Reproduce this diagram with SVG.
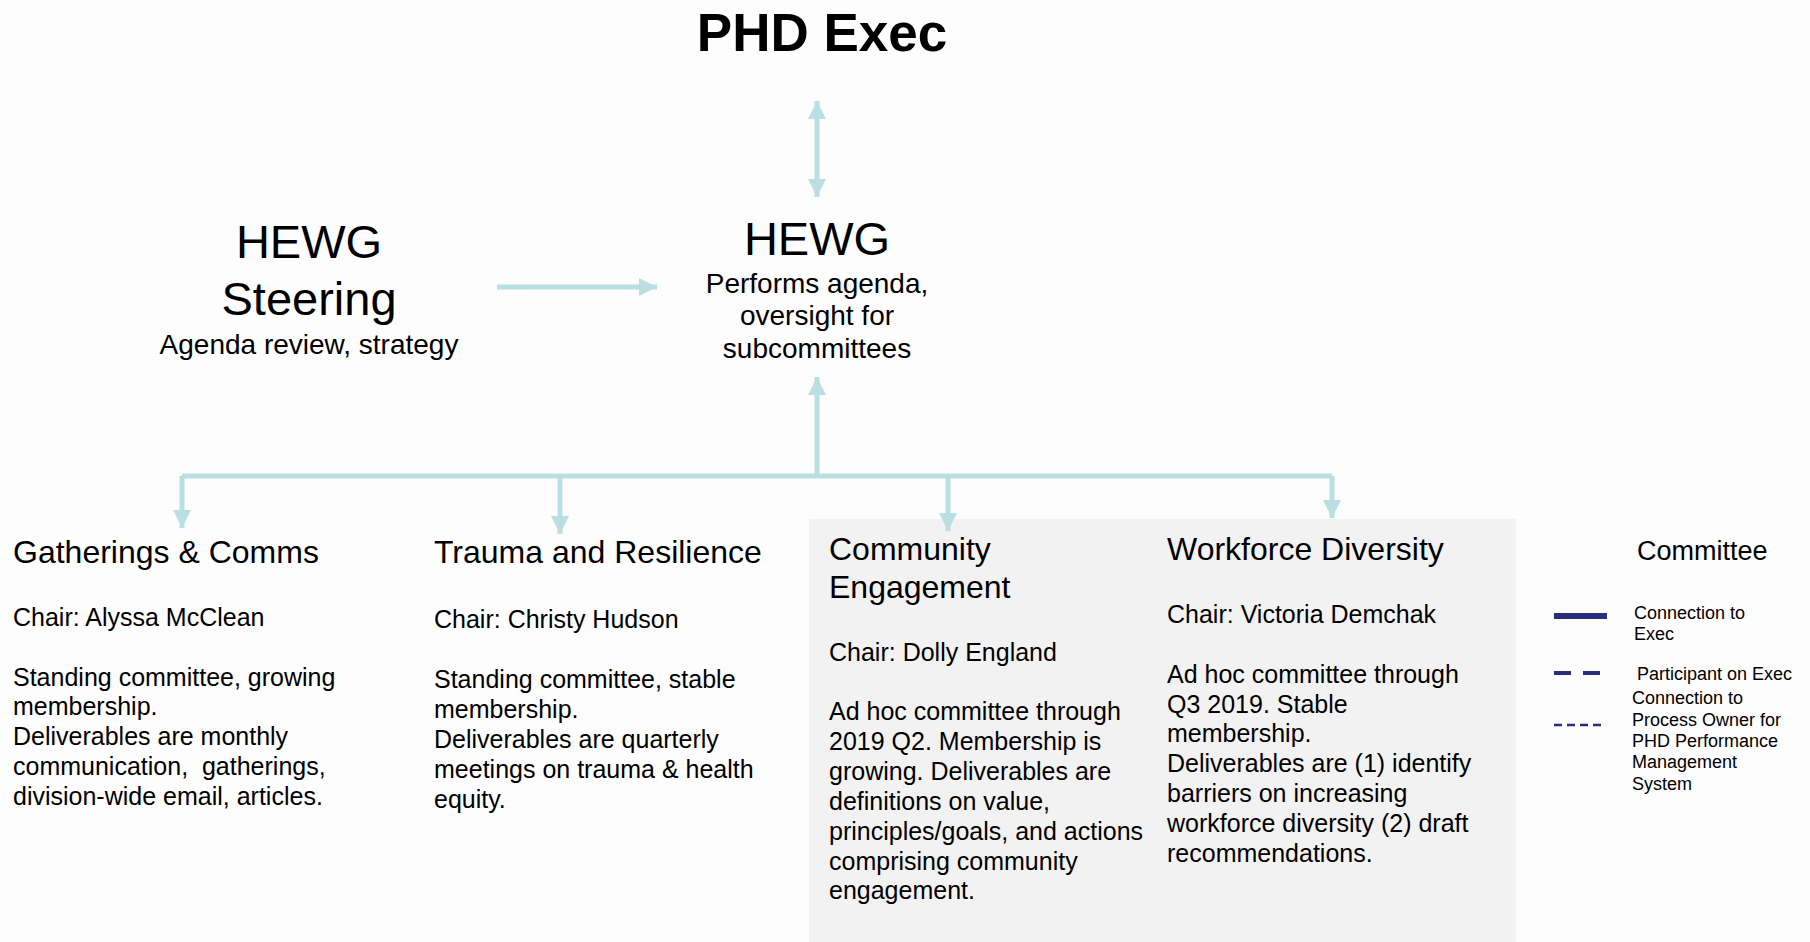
<svg xmlns="http://www.w3.org/2000/svg" width="1810" height="942" viewBox="0 0 1810 942">
<style>
text{font-family:"Liberation Sans",Arial,sans-serif;fill:#000}
.title{font-size:53px;font-weight:bold}
.big{font-size:47px}
.sub{font-size:28px}
.head{font-size:32px}
.body{font-size:25px}
.leg{font-size:18px}
.conn{fill:none;stroke:#b9dfe3;stroke-width:5}
</style>
<defs>
<marker id="ah" markerUnits="userSpaceOnUse" markerWidth="18" markerHeight="18" viewBox="0 0 18 18" refX="18" refY="9" orient="auto-start-reverse">
<path d="M0,0 L18,9 L0,18 z" fill="#b9dfe3"/>
</marker>
</defs>
<rect x="0" y="0" width="1810" height="942" fill="#fdfdfd"/>
<rect id="adhoc-panel" x="809" y="519" width="707" height="423" fill="#f2f2f2"/>

<g id="connectors">
<path class="conn" d="M817,101 V197" marker-start="url(#ah)" marker-end="url(#ah)"/>
<path class="conn" d="M497,287 H657" marker-end="url(#ah)"/>
<path class="conn" d="M817,476 V377" marker-end="url(#ah)"/>
<path class="conn" d="M182,476 H1332"/>
<path class="conn" d="M182,476 V528" marker-end="url(#ah)"/>
<path class="conn" d="M560,476 V534" marker-end="url(#ah)"/>
<path class="conn" d="M948,476 V531" marker-end="url(#ah)"/>
<path class="conn" d="M1332,476 V518" marker-end="url(#ah)"/>
</g>

<g id="phd-exec">
<text class="title" x="822" y="51" text-anchor="middle">PHD Exec</text>
</g>

<g id="hewg-steering">
<text class="big" x="309" y="258" text-anchor="middle">HEWG</text>
<text class="big" x="309" y="315" text-anchor="middle">Steering</text>
<text class="sub" x="309" y="354" text-anchor="middle">Agenda review, strategy</text>
</g>

<g id="hewg">
<text class="big" x="817" y="255" text-anchor="middle">HEWG</text>
<text class="sub" x="817" y="293" text-anchor="middle">Performs agenda,</text>
<text class="sub" x="817" y="325" text-anchor="middle">oversight for</text>
<text class="sub" x="817" y="358" text-anchor="middle">subcommittees</text>
</g>

<g id="gatherings-comms">
<text class="head" x="13" y="563">Gatherings &amp; Comms</text>
<text class="body" x="13" y="626">Chair: Alyssa McClean</text>
<text class="body" x="13" y="686">Standing committee, growing</text>
<text class="body" x="13" y="715">membership.</text>
<text class="body" x="13" y="745">Deliverables are monthly</text>
<text class="body" x="13" y="775" xml:space="preserve">communication,  gatherings,</text>
<text class="body" x="13" y="805">division-wide email, articles.</text>
</g>

<g id="trauma-resilience">
<text class="head" x="434" y="563">Trauma and Resilience</text>
<text class="body" x="434" y="628">Chair: Christy Hudson</text>
<text class="body" x="434" y="688">Standing committee, stable</text>
<text class="body" x="434" y="718">membership.</text>
<text class="body" x="434" y="748">Deliverables are quarterly</text>
<text class="body" x="434" y="778">meetings on trauma &amp; health</text>
<text class="body" x="434" y="808">equity.</text>
</g>

<g id="community-engagement">
<text class="head" x="829" y="560">Community</text>
<text class="head" x="829" y="598">Engagement</text>
<text class="body" x="829" y="661">Chair: Dolly England</text>
<text class="body" x="829" y="720">Ad hoc committee through</text>
<text class="body" x="829" y="750">2019 Q2. Membership is</text>
<text class="body" x="829" y="780">growing. Deliverables are</text>
<text class="body" x="829" y="810">definitions on value,</text>
<text class="body" x="829" y="840">principles/goals, and actions</text>
<text class="body" x="829" y="870">comprising community</text>
<text class="body" x="829" y="899">engagement.</text>
</g>

<g id="workforce-diversity">
<text class="head" x="1167" y="560">Workforce Diversity</text>
<text class="body" x="1167" y="623">Chair: Victoria Demchak</text>
<text class="body" x="1167" y="683">Ad hoc committee through</text>
<text class="body" x="1167" y="713">Q3 2019. Stable</text>
<text class="body" x="1167" y="742">membership.</text>
<text class="body" x="1167" y="772">Deliverables are (1) identify</text>
<text class="body" x="1167" y="802">barriers on increasing</text>
<text class="body" x="1167" y="832">workforce diversity (2) draft</text>
<text class="body" x="1167" y="862">recommendations.</text>
</g>

<g id="legend">
<text x="1637" y="560" style="font-size:27px">Committee</text>
<line x1="1554" y1="616" x2="1607" y2="616" stroke="#2a2c7c" stroke-width="6"/>
<text class="leg" x="1634" y="619">Connection to</text>
<text class="leg" x="1634" y="640">Exec</text>
<line x1="1554" y1="673" x2="1600" y2="673" stroke="#2a2c7c" stroke-width="4" stroke-dasharray="17 12"/>
<text class="leg" x="1637" y="680">Participant on Exec</text>
<line x1="1554" y1="725" x2="1602" y2="725" stroke="#2a2c7c" stroke-width="2.5" stroke-dasharray="8 5"/>
<text class="leg" x="1632" y="704">Connection to</text>
<text class="leg" x="1632" y="726">Process Owner for</text>
<text class="leg" x="1632" y="747">PHD Performance</text>
<text class="leg" x="1632" y="768">Management</text>
<text class="leg" x="1632" y="790">System</text>
</g>
</svg>
